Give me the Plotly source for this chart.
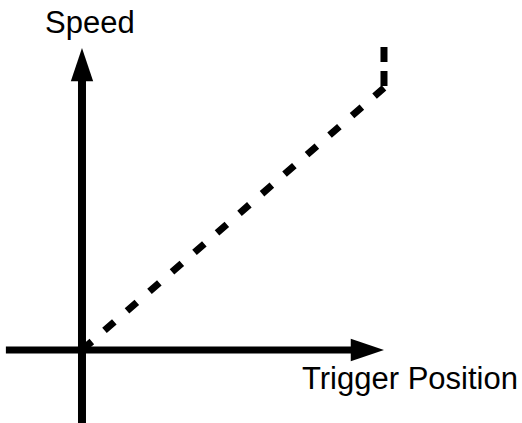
"""Trigger position vs speed sketch."""
import plotly.graph_objects as go

# values (axis units, origin where the axes cross)
trigger_position = [0, 10, 10]
speed = [0, 8.68, 10.03]

x_label = "Trigger Position"
y_label = "Speed"

# axis geometry
x_axis_start = -2.52
y_axis_start = -2.6
axis_end = 10.0
head_len = 1.1
head_half = 0.37

fig = go.Figure()
# rising part, then the vertical jump at full travel (drawn top-down so the dashes line up)
fig.add_trace(
    go.Scatter(
        x=trigger_position[:2], y=speed[:2], mode="lines",
        line=dict(color="black", width=7, dash="13px,16.8px"),
        hoverinfo="skip", showlegend=False,
    )
)
fig.add_trace(
    go.Scatter(
        x=trigger_position[:0:-1], y=speed[:0:-1], mode="lines",
        line=dict(color="black", width=7, dash="15px,9px"),
        hoverinfo="skip", showlegend=False,
    )
)

shapes = [
    # horizontal axis
    dict(type="line", xref="x", yref="y", x0=x_axis_start, y0=0, x1=axis_end - head_len + 0.1, y1=0,
         line=dict(color="black", width=7)),
    dict(type="path", xref="x", yref="y",
         path=f"M{axis_end - head_len},{-head_half} L{axis_end},0 L{axis_end - head_len},{head_half} Z",
         fillcolor="black", line=dict(color="black", width=0)),
    # vertical axis
    dict(type="line", xref="x", yref="y", x0=0, y0=y_axis_start, x1=0, y1=axis_end - head_len + 0.1,
         line=dict(color="black", width=8)),
    dict(type="path", xref="x", yref="y",
         path=f"M{-head_half},{axis_end - head_len} L0,{axis_end} L{head_half},{axis_end - head_len} Z",
         fillcolor="black", line=dict(color="black", width=0)),
]

font = dict(family="Arial, Liberation Sans, sans-serif", size=31, color="black")
annotations = [
    dict(text=y_label, x=0.25, y=10.85, xref="x", yref="y", showarrow=False, font=font),
    dict(text=x_label, x=10.86, y=-0.95, xref="x", yref="y", showarrow=False, font=font),
]

fig.update_layout(
    width=522, height=423,
    margin=dict(l=0, r=0, t=0, b=0),
    paper_bgcolor="white", plot_bgcolor="white",
    xaxis=dict(range=[-2.715, 14.57], visible=False, fixedrange=True),
    yaxis=dict(range=[-2.417, 11.59], visible=False, fixedrange=True),
    shapes=shapes, annotations=annotations,
    showlegend=False,
)
# the page body has a default 8px margin; drop it so the figure fills the window
fig.write_html("out.html", config={"displayModeBar": False},
               post_script="document.body.style.margin='0';")
